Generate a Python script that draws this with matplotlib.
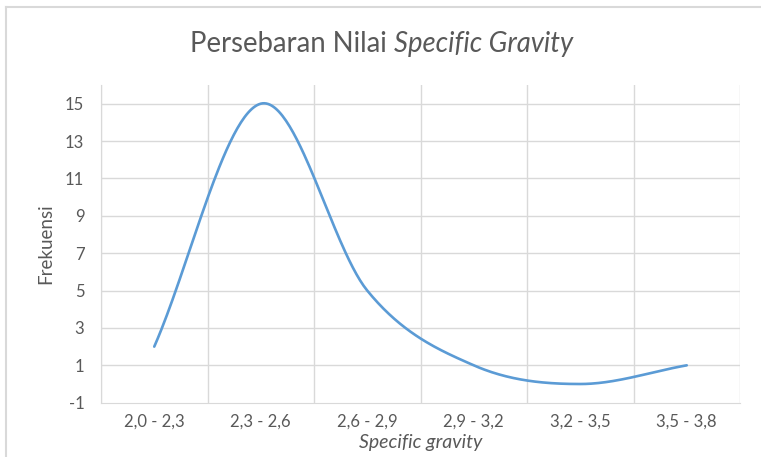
import numpy as np
import matplotlib
matplotlib.use("Agg")
import matplotlib.pyplot as plt
from matplotlib.lines import Line2D

plt.rcParams['font.family'] = ['Lato', 'DejaVu Sans']
plt.rcParams['axes.unicode_minus'] = False

kelas = ["2,0 - 2,3", "2,3 - 2,6", "2,6 - 2,9", "2,9 - 3,2", "3,2 - 3,5", "3,5 - 3,8"]
frekuensi = [2, 15, 5, 1, 0, 1]
y_ticks = [-1, 1, 3, 5, 7, 9, 11, 13, 15]


def smooth_curve(xs, ys, n=60):
    # cubic bezier through the points, catmull-rom style tangents
    xs = np.asarray(xs, float)
    ys = np.asarray(ys, float)
    px = np.concatenate([[2 * xs[0] - xs[1]], xs, [2 * xs[-1] - xs[-2]]])
    py = np.concatenate([[2 * ys[0] - ys[1]], ys, [2 * ys[-1] - ys[-2]]])
    out_x, out_y = [], []
    t = np.linspace(0, 1, n)
    for i in range(1, len(px) - 2):
        p0 = np.array([px[i], py[i]])
        p3 = np.array([px[i + 1], py[i + 1]])
        b1 = p0 + (np.array([px[i + 1], py[i + 1]]) - np.array([px[i - 1], py[i - 1]])) / 6
        b2 = p3 - (np.array([px[i + 2], py[i + 2]]) - np.array([px[i], py[i]])) / 6
        pts = ((1 - t) ** 3)[:, None] * p0 + (3 * (1 - t) ** 2 * t)[:, None] * b1 \
            + (3 * (1 - t) * t ** 2)[:, None] * b2 + (t ** 3)[:, None] * p3
        out_x.extend(pts[:, 0])
        out_y.extend(pts[:, 1])
    return np.array(out_x), np.array(out_y)


fig = plt.figure(figsize=(7.61, 4.57), dpi=100)
ax = fig.add_axes([101 / 761, 1 - 402.7 / 457, (740 - 101) / 761, (402.7 - 85) / 457])

x = np.arange(len(kelas))
sx, sy = smooth_curve(x, frekuensi)
ax.plot(sx, sy, color="#5B9BD5", lw=1.9, solid_capstyle="round", zorder=3)

grid_c = "#D9D9D9"
ax.set_xlim(-0.5, len(kelas) - 0.5)
ax.set_ylim(-1, 16)
ax.set_yticks(y_ticks)
ax.set_xticks(x)
ax.set_xticklabels(kelas)
for yv in y_ticks[1:]:
    ax.axhline(yv, color=grid_c, lw=1.0, zorder=1)
for xv in np.arange(-0.5, len(kelas), 1.0):
    ax.axvline(xv, color=grid_c, lw=1.0, zorder=1)

for s in ax.spines.values():
    s.set_visible(False)
ax.spines["bottom"].set_visible(True)
ax.spines["bottom"].set_color(grid_c)
ax.spines["left"].set_visible(True)
ax.spines["left"].set_color(grid_c)
ax.tick_params(length=0, labelsize=12, colors="#595959")
ax.tick_params(axis="y", pad=12)
ax.tick_params(axis="x", pad=8)

ax.set_xlabel("Specific gravity", style="italic", fontsize=14, color="#595959", labelpad=3)
ax.set_ylabel("Frekuensi", fontsize=13.5, color="#595959", labelpad=8)

fig.text(0.518, 1 - 44 / 457, "Persebaran Nilai ", ha="right", va="center",
         fontsize=19.8, color="#595959")
fig.text(0.518, 1 - 44 / 457, "Specific Gravity", ha="left", va="center",
         fontsize=19.8, color="#595959", style="italic")

# light frame around the chart
fig.add_artist(Line2D([5.5 / 761, 1], [1 - 6.5 / 457] * 2, color=grid_c, lw=1.5,
                      transform=fig.transFigure))
fig.add_artist(Line2D([5.5 / 761] * 2, [0, 1 - 6.5 / 457], color=grid_c, lw=1.5,
                      transform=fig.transFigure))

fig.savefig("out.png", dpi=100)
